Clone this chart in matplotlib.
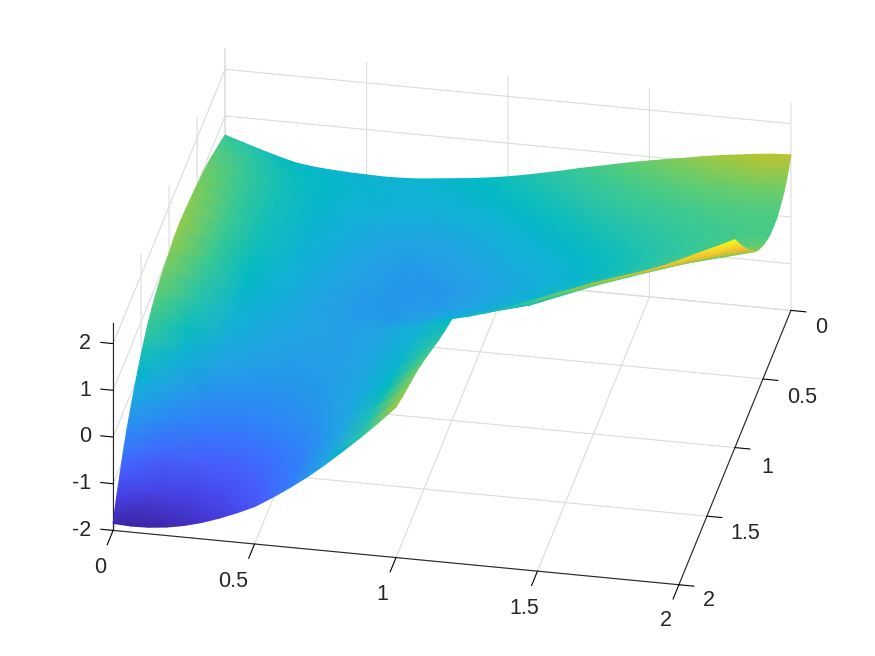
import numpy as np
import matplotlib
matplotlib.use("Agg")
import matplotlib.pyplot as plt
from matplotlib.colors import LinearSegmentedColormap, Normalize
from mpl_toolkits.mplot3d import proj3d

plt.rcParams['font.family'] = ['Liberation Sans', 'DejaVu Sans']
plt.rcParams['axes.unicode_minus'] = False

# grid of the L shaped domain, rows are y, columns are x
x_vals = [0, 0.125, 0.25, 0.375, 0.5, 0.625, 0.75, 0.875, 1, 1.125, 1.25, 1.375, 1.5, 1.625, 1.75, 1.875, 2]
y_vals = [0, 0.125, 0.25, 0.375, 0.5, 0.625, 0.75, 0.875, 1, 1.125, 1.25, 1.375, 1.5, 1.625, 1.75, 1.875, 2]

z_y000 = [0.59, 0.35, 0.14, 0.06, 0.03, 0.03, 0.09, 0.17, 0.28, 0.43, 0.60, 0.76, 0.91, 1.04, 1.17, 1.27, 1.33]
z_y012 = [0.72, 0.48, 0.27, 0.14, 0.06, 0.01, 0.00, 0.05, 0.14, 0.28, 0.44, 0.58, 0.71, 0.81, 0.88, 0.91, 0.90]
z_y025 = [0.84, 0.56, 0.30, 0.12, 0.00, -0.08, -0.11, -0.08, 0.00, 0.12, 0.27, 0.41, 0.53, 0.62, 0.69, 0.72, 0.72]
z_y037 = [0.93, 0.60, 0.30, 0.08, -0.08, -0.20, -0.26, -0.24, -0.13, -0.01, 0.12, 0.26, 0.39, 0.50, 0.60, 0.67, 0.72]
z_y050 = [0.99, 0.62, 0.28, 0.05, -0.13, -0.28, -0.37, -0.33, -0.22, -0.11, 0.00, 0.13, 0.28, 0.43, 0.58, 0.72, 0.86]
z_y062 = [1.04, 0.65, 0.27, 0.02, -0.18, -0.33, -0.42, -0.42, -0.32, -0.18, -0.05, 0.10, 0.30, 0.50, 0.70, 0.90, 1.10]
z_y075 = [1.08, 0.62, 0.22, -0.03, -0.22, -0.36, -0.43, -0.40, -0.28, -0.12, 0.05, 0.27, 0.52, 0.78, 1.03, 1.27, 1.50]
z_y087 = [1.08, 0.60, 0.17, -0.07, -0.25, -0.36, -0.38, -0.28, -0.12, 0.05, 0.25, 0.55, 0.85, 1.12, 1.38, 1.65, 1.95]
z_y100 = [1.00, 0.50, 0.05, -0.12, -0.25, -0.32, -0.22, -0.04, 0.18, 0.38, 0.65, 0.95, 1.23, 1.48, 1.75, 2.10, 2.45]
z_y112 = [0.93, 0.40, -0.03, -0.20, -0.30, -0.33, -0.21, 0.00, 0.30]
z_y125 = [0.80, 0.25, -0.14, -0.30, -0.34, -0.32, -0.20, 0.05, 0.44]
z_y137 = [0.60, 0.02, -0.33, -0.43, -0.42, -0.35, -0.20, 0.10, 0.60]
z_y150 = [0.28, -0.28, -0.55, -0.60, -0.53, -0.42, -0.20, 0.17, 0.76]
z_y162 = [-0.10, -0.60, -0.78, -0.80, -0.70, -0.53, -0.22, 0.25, 0.90]
z_y175 = [-0.55, -0.98, -1.08, -1.05, -0.90, -0.68, -0.22, 0.35, 1.00]
z_y187 = [-1.15, -1.42, -1.42, -1.28, -1.05, -0.72, -0.20, 0.40, 1.10]
z_y200 = [-1.85, -1.86, -1.75, -1.52, -1.20, -0.72, -0.15, 0.50, 1.22]

z_rows = [z_y000, z_y012, z_y025, z_y037, z_y050, z_y062, z_y075, z_y087, z_y100,
          z_y112, z_y125, z_y137, z_y150, z_y162, z_y175, z_y187, z_y200]

# extra readings halfway along each outer edge, so the outline is less angular
edge_back = [0.47, 0.24, 0.09, 0.04, 0.02, 0.05, 0.13, 0.22, 0.35, 0.51, 0.68, 0.84, 0.98, 1.11, 1.22, 1.31]
edge_left = [0.66, 0.78, 0.89, 0.96, 1.02, 1.06, 1.09, 1.05, 0.97, 0.87, 0.71, 0.45, 0.10, -0.32, -0.83, -1.47]
edge_front = [-1.87, -1.82, -1.65, -1.37, -0.97, -0.45, 0.17, 0.85]
edge_right = [1.08, 0.80, 0.71, 0.78, 0.97, 1.29, 1.72, 2.20]
edge_step_x = [0.27, 0.51, 0.80, 1.09, 1.36, 1.61, 1.92, 2.27]
edge_step_y = [0.24, 0.37, 0.52, 0.68, 0.83, 0.95, 1.05, 1.16]

ticks = [0, 0.5, 1, 1.5, 2]
tick_labels = ['0', '0.5', '1', '1.5', '2']
z_ticks = [-2, -1, 0, 1, 2]

# parula
parula = [[0.2422, 0.1504, 0.6603], [0.2647, 0.1978, 0.7952], [0.2783, 0.2559, 0.8991],
          [0.2810, 0.3228, 0.9579], [0.2699, 0.3892, 0.9906], [0.2206, 0.4603, 0.9973],
          [0.1786, 0.5289, 0.9682], [0.1540, 0.5902, 0.9218], [0.1248, 0.6459, 0.8883],
          [0.0689, 0.6948, 0.8394], [0.0067, 0.7312, 0.7660], [0.1408, 0.7584, 0.6842],
          [0.2161, 0.7843, 0.5923], [0.3406, 0.8008, 0.4789], [0.5044, 0.7993, 0.3480],
          [0.6720, 0.7793, 0.2227], [0.8203, 0.7498, 0.1535], [0.9393, 0.7288, 0.2100],
          [0.9970, 0.7659, 0.2199], [0.9786, 0.8386, 0.1766], [0.9597, 0.9135, 0.1423],
          [0.9769, 0.9839, 0.0805]]
cmap = LinearSegmentedColormap.from_list('parula', parula, N=256)

Z = np.full((len(y_vals), len(x_vals)), np.nan)
for i, row in enumerate(z_rows):
    Z[i, :len(row)] = row
X, Y = np.meshgrid(x_vals, y_vals)

fig = plt.figure(figsize=(8.75, 6.56), dpi=100)
W = 800
left = 452 - 0.5135 * W
top = 316.5 - 0.4865 * W
rect = [left / 875, (656 - top - W) / 656, W / 875, W / 656]
ax = fig.add_axes(rect, projection='3d', proj_type='ortho')
ax.set_box_aspect((1, 1, 0.412), zoom=1.031)
ax.view_init(elev=29, azim=-78.8)

ax.set_xlim(0, 2)
ax.set_ylim(2, 0)
ax.set_zlim(-2, 2.45)
ax.set_xticks(ticks)
ax.set_xticklabels([''] * 5)
ax.set_yticks(ticks)
ax.set_yticklabels([''] * 5)
ax.set_zticks(z_ticks)
ax.set_zticklabels([''] * 5)
ax.zaxis.set_ticks_position('upper')

tick_in = {'x': 0.65, 'y': 0.33, 'z': 0.0}
tick_out = {'x': 0.0, 'y': 0.0, 'z': 0.27}
for name, axis in (('x', ax.xaxis), ('y', ax.yaxis), ('z', ax.zaxis)):
    axis.set_pane_color((1, 1, 1, 0))
    axis.pane.set_edgecolor((1, 1, 1, 0))
    axis.line.set_color('#262626')
    axis.line.set_linewidth(0.8)
    axis._axinfo['grid']['color'] = '#dcdcdc'
    axis._axinfo['grid']['linewidth'] = 0.8
    axis._axinfo['tick']['inward_factor'] = tick_in[name]
    axis._axinfo['tick']['outward_factor'] = tick_out[name]
    axis._axinfo['tick']['linewidth'] = {True: 0.8, False: 0.5}
    axis._axinfo['tick']['color'] = '#262626'

# surface as vertex coloured triangles (like shading interp), far ones first
idx = np.arange(Z.size).reshape(Z.shape)
vx = list(X.ravel())
vy = list(Y.ravel())
vz = list(Z.ravel())
mids = {}


def add_mid(a, b, z):
    mids[(min(a, b), max(a, b))] = len(vx)
    vx.append((vx[a] + vx[b]) / 2)
    vy.append((vy[a] + vy[b]) / 2)
    vz.append(z)


for k, z in enumerate(edge_back):
    add_mid(idx[0, k], idx[0, k + 1], z)
for k, z in enumerate(edge_left):
    add_mid(idx[k, 0], idx[k + 1, 0], z)
for k, z in enumerate(edge_front):
    add_mid(idx[16, k], idx[16, k + 1], z)
for k, z in enumerate(edge_right):
    add_mid(idx[k, 16], idx[k + 1, 16], z)
for k, z in enumerate(edge_step_x):
    add_mid(idx[8, 8 + k], idx[8, 9 + k], z)
for k, z in enumerate(edge_step_y):
    add_mid(idx[8 + k, 8], idx[9 + k, 8], z)

tris = []
for i in range(Z.shape[0] - 1):
    for j in range(Z.shape[1] - 1):
        corners = [int(idx[i, j]), int(idx[i, j + 1]), int(idx[i + 1, j + 1]), int(idx[i + 1, j])]
        if np.isnan(Z.ravel()[corners]).any():
            continue
        ring = []
        free = []
        for n in range(4):
            a, b, prev = corners[n], corners[(n + 1) % 4], corners[n - 1]
            ring.append(a)
            key = (min(a, b), max(a, b))
            if key in mids:
                ring.append(mids[key])
            if key not in mids and (min(a, prev), max(a, prev)) not in mids:
                free.append(a)
        # fan from a corner that has no extra point next to it
        start = ring.index(free[0])
        ring = ring[start:] + ring[:start]
        for n in range(1, len(ring) - 1):
            tris.append([ring[0], ring[n], ring[n + 1]])
tris = np.array(tris)

M = ax.get_proj()
vx = np.array(vx)
vy = np.array(vy)
vz = np.array(vz)
px, py, pz = proj3d.proj_transform(vx, vy, np.nan_to_num(vz), M)
tris = tris[np.argsort(-pz[tris].mean(axis=1))]

ax2 = fig.add_axes(rect)
ax2.patch.set_alpha(0)
ax2.axis('off')
ax2.tripcolor(px, py, tris, np.nan_to_num(vz), shading='gouraud', cmap=cmap, norm=Normalize(-1.87, 2.45))
ax2.set_xlim(*ax.viewLim.intervalx)
ax2.set_ylim(*ax.viewLim.intervaly)

# tick labels sit on the projected tick positions, offsets in pixels
x_label_off = [(-13, -37), (-21, -38), (-14, -37), (-13, -37), (-13, -36)]
y_label_off = [(30, -17), (39, -19), (32, -20), (38, -17), (30, -16)]
txt = dict(textcoords='offset pixels', fontsize=15.5, color='#262626', va='center')
for v, lab, off in zip(ticks, tick_labels, x_label_off):
    sx, sy, _ = proj3d.proj_transform(v, 2, -2, M)
    ax2.annotate(lab, (sx, sy), xytext=off, ha='center', **txt)
for v, lab, off in zip(ticks, tick_labels, y_label_off):
    sx, sy, _ = proj3d.proj_transform(2, v, -2, M)
    ax2.annotate(lab, (sx, sy), xytext=off, ha='center', **txt)
for v in z_ticks:
    sx, sy, _ = proj3d.proj_transform(0, 2, v, M)
    ax2.annotate(str(v), (sx, sy), xytext=(-22, 0), ha='right', **txt)

fig.savefig('out.png', dpi=100)
